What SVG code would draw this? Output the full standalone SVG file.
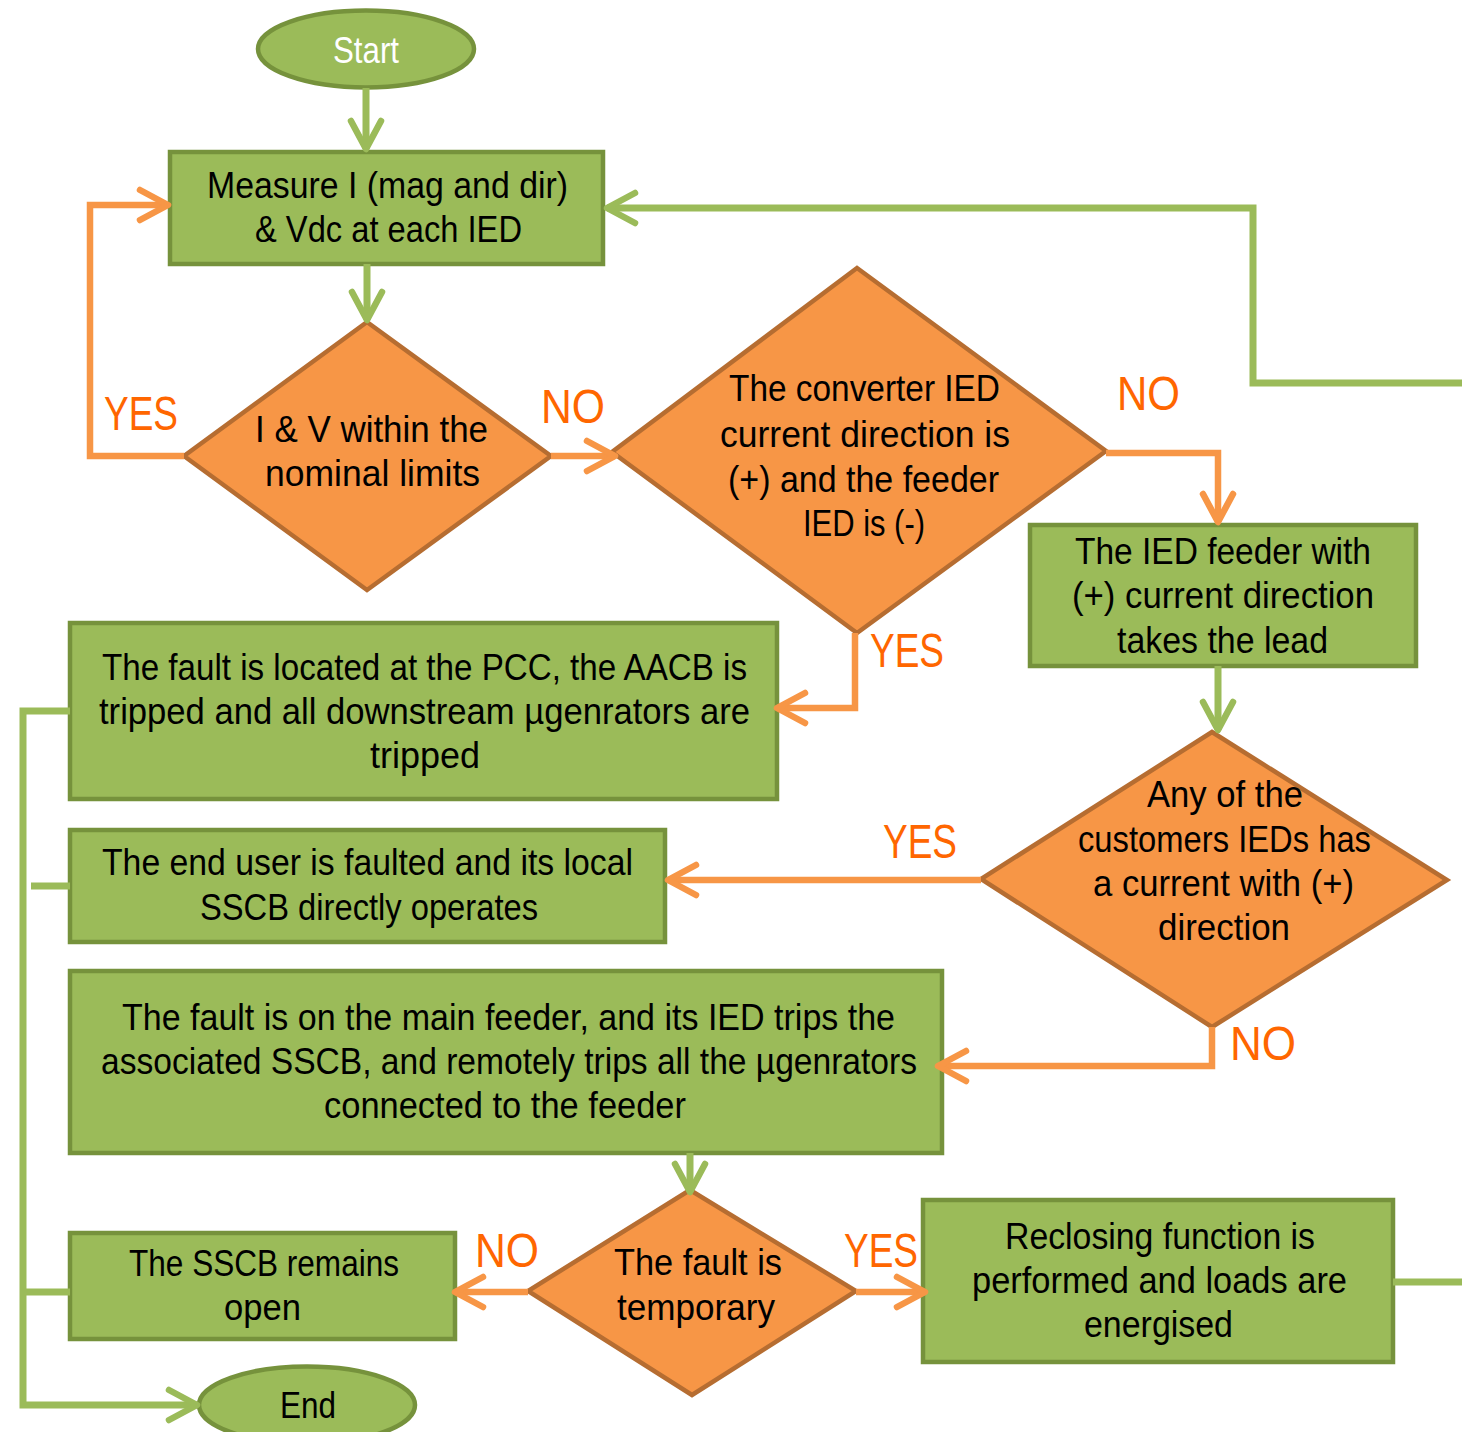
<svg xmlns="http://www.w3.org/2000/svg" width="1462" height="1432" viewBox="0 0 1462 1432">
<style>
.box{fill:#9BBB59;stroke:#76923C;stroke-width:4.5}
.dia{fill:#F79646;stroke:#B66D31;stroke-width:4.5}
.t{font-family:"Liberation Sans",Arial,sans-serif;font-size:36px;fill:#000}
.w{fill:#fff}
.lbl{font-family:"Liberation Sans",Arial,sans-serif;font-size:48px;fill:#FF6600}
.cg{fill:none;stroke:#9BBB59;stroke-width:7}
.co{fill:none;stroke:#F79646;stroke-width:6.5}
</style>
<defs>
<marker id="ag" markerUnits="userSpaceOnUse" markerWidth="40" markerHeight="40" viewBox="-36 -20 40 40" refX="0" refY="0" orient="auto" overflow="visible">
<path d="M-28,-15 L0,0 L-28,15" fill="none" stroke="#9BBB59" stroke-width="6.5" stroke-linecap="round" stroke-linejoin="round"/>
</marker>
<marker id="ao" markerUnits="userSpaceOnUse" markerWidth="40" markerHeight="40" viewBox="-36 -20 40 40" refX="0" refY="0" orient="auto" overflow="visible">
<path d="M-28,-15 L0,0 L-28,15" fill="none" stroke="#F79646" stroke-width="6.5" stroke-linecap="round" stroke-linejoin="round"/>
</marker>
</defs>
<rect width="1462" height="1432" fill="#fff"/>

<g id="start">
<ellipse class="box" cx="366" cy="49" rx="108" ry="38.5"/>
<text class="t w" x="333" y="63" textLength="66" lengthAdjust="spacingAndGlyphs">Start</text>
</g>

<g id="measure">
<rect class="box" x="170" y="152" width="433" height="112"/>
<text class="t" x="207" y="198" textLength="361" lengthAdjust="spacingAndGlyphs">Measure I (mag and dir)</text>
<text class="t" x="255" y="242" textLength="267" lengthAdjust="spacingAndGlyphs">&amp; Vdc at each IED</text>
</g>

<g id="d1">
<polygon class="dia" points="367,322 551,456 367,590 184,456"/>
<text class="t" x="255" y="442" textLength="233" lengthAdjust="spacingAndGlyphs">I &amp; V within the</text>
<text class="t" x="265" y="486" textLength="215" lengthAdjust="spacingAndGlyphs">nominal limits</text>
</g>

<g id="d2">
<polygon class="dia" points="857,268 1106,451 857,633 612,452"/>
<text class="t" x="729" y="401" textLength="271" lengthAdjust="spacingAndGlyphs">The converter IED</text>
<text class="t" x="720" y="447" textLength="290" lengthAdjust="spacingAndGlyphs">current direction is</text>
<text class="t" x="728" y="492" textLength="271" lengthAdjust="spacingAndGlyphs">(+) and the feeder</text>
<text class="t" x="803" y="536" textLength="122" lengthAdjust="spacingAndGlyphs">IED is (-)</text>
</g>

<g id="iedlead">
<rect class="box" x="1030" y="525" width="386" height="141"/>
<text class="t" x="1075" y="564" textLength="296" lengthAdjust="spacingAndGlyphs">The IED feeder with</text>
<text class="t" x="1072" y="608" textLength="302" lengthAdjust="spacingAndGlyphs">(+) current direction</text>
<text class="t" x="1117" y="653" textLength="211" lengthAdjust="spacingAndGlyphs">takes the lead</text>
</g>

<g id="d3">
<polygon class="dia" points="1212,732 1447,880 1212,1027 981,879"/>
<text class="t" x="1147" y="807" textLength="156" lengthAdjust="spacingAndGlyphs">Any of the</text>
<text class="t" x="1078" y="852" textLength="293" lengthAdjust="spacingAndGlyphs">customers IEDs has</text>
<text class="t" x="1093" y="896" textLength="261" lengthAdjust="spacingAndGlyphs">a current with (+)</text>
<text class="t" x="1158" y="940" textLength="132" lengthAdjust="spacingAndGlyphs">direction</text>
</g>

<g id="pcc">
<rect class="box" x="70" y="623" width="707" height="176"/>
<text class="t" x="102" y="680" textLength="645" lengthAdjust="spacingAndGlyphs">The fault is located at the PCC, the AACB is</text>
<text class="t" x="99" y="724" textLength="651" lengthAdjust="spacingAndGlyphs">tripped and all downstream µgenrators are</text>
<text class="t" x="370" y="768" textLength="110" lengthAdjust="spacingAndGlyphs">tripped</text>
</g>

<g id="enduser">
<rect class="box" x="70" y="830" width="595" height="112"/>
<text class="t" x="102" y="875" textLength="531" lengthAdjust="spacingAndGlyphs">The end user is faulted and its local</text>
<text class="t" x="200" y="920" textLength="338" lengthAdjust="spacingAndGlyphs">SSCB directly operates</text>
</g>

<g id="mainfeeder">
<rect class="box" x="70" y="971" width="872" height="182"/>
<text class="t" x="122" y="1030" textLength="773" lengthAdjust="spacingAndGlyphs">The fault is on the main feeder, and its IED trips the</text>
<text class="t" x="101" y="1074" textLength="816" lengthAdjust="spacingAndGlyphs">associated SSCB, and remotely trips all the µgenrators</text>
<text class="t" x="324" y="1118" textLength="362" lengthAdjust="spacingAndGlyphs">connected to the feeder</text>
</g>

<g id="d4">
<polygon class="dia" points="690,1190 856,1291 692,1395 528,1291"/>
<text class="t" x="614" y="1275" textLength="168" lengthAdjust="spacingAndGlyphs">The fault is</text>
<text class="t" x="617" y="1320" textLength="158" lengthAdjust="spacingAndGlyphs">temporary</text>
</g>

<g id="open">
<rect class="box" x="70" y="1233" width="385" height="106"/>
<text class="t" x="129" y="1276" textLength="270" lengthAdjust="spacingAndGlyphs">The SSCB remains</text>
<text class="t" x="224" y="1320" textLength="77" lengthAdjust="spacingAndGlyphs">open</text>
</g>

<g id="reclose">
<rect class="box" x="923" y="1200" width="470" height="162"/>
<text class="t" x="1005" y="1249" textLength="310" lengthAdjust="spacingAndGlyphs">Reclosing function is</text>
<text class="t" x="972" y="1293" textLength="375" lengthAdjust="spacingAndGlyphs">performed and loads are</text>
<text class="t" x="1084" y="1337" textLength="149" lengthAdjust="spacingAndGlyphs">energised</text>
</g>

<g id="end">
<ellipse class="box" cx="307" cy="1405" rx="108" ry="38.5"/>
<text class="t" x="280" y="1418" textLength="56" lengthAdjust="spacingAndGlyphs">End</text>
</g>

<g id="connectors">
<path class="cg" d="M366,88 L366,149" marker-end="url(#ag)"/>
<path class="cg" d="M367,264 L367,320" marker-end="url(#ag)"/>
<path class="cg" d="M1218,666 L1218,730" marker-end="url(#ag)"/>
<path class="cg" d="M690,1153 L690,1192" marker-end="url(#ag)"/>
<path class="cg" d="M1462,383 L1253,383 L1253,208 L607,208" marker-end="url(#ag)"/>
<path class="cg" d="M1393,1282 L1462,1282"/>
<path class="cg" d="M70,711 L23,711 L23,1405 L197,1405" marker-end="url(#ag)"/>
<path class="cg" d="M70,886 L31,886"/>
<path class="cg" d="M70,1292 L23,1292"/>

<path class="co" d="M184,456 L90,456 L90,205 L168,205" marker-end="url(#ao)"/>
<path class="co" d="M551,456 L615,456" marker-end="url(#ao)"/>
<path class="co" d="M1106,453 L1218,453 L1218,522" marker-end="url(#ao)"/>
<path class="co" d="M855,633 L855,708 L777,708" marker-end="url(#ao)"/>
<path class="co" d="M981,880 L668,880" marker-end="url(#ao)"/>
<path class="co" d="M1212,1027 L1212,1066 L938,1066" marker-end="url(#ao)"/>
<path class="co" d="M528,1292 L455,1292" marker-end="url(#ao)"/>
<path class="co" d="M856,1292 L925,1292" marker-end="url(#ao)"/>
</g>

<g id="labels">
<text class="lbl" x="104" y="430" textLength="74" lengthAdjust="spacingAndGlyphs">YES</text>
<text class="lbl" x="541" y="423" textLength="64" lengthAdjust="spacingAndGlyphs">NO</text>
<text class="lbl" x="1117" y="410" textLength="63" lengthAdjust="spacingAndGlyphs">NO</text>
<text class="lbl" x="870" y="667" textLength="74" lengthAdjust="spacingAndGlyphs">YES</text>
<text class="lbl" x="883" y="858" textLength="74" lengthAdjust="spacingAndGlyphs">YES</text>
<text class="lbl" x="1230" y="1060" textLength="66" lengthAdjust="spacingAndGlyphs">NO</text>
<text class="lbl" x="475" y="1267" textLength="64" lengthAdjust="spacingAndGlyphs">NO</text>
<text class="lbl" x="844" y="1267" textLength="74" lengthAdjust="spacingAndGlyphs">YES</text>
</g>
</svg>
